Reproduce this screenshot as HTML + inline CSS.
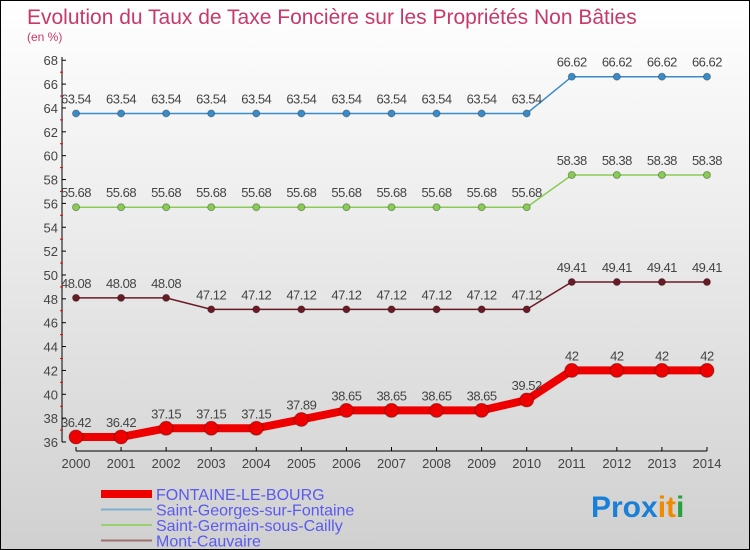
<!DOCTYPE html>
<html><head><meta charset="utf-8"><style>
body{margin:0;}
#c{width:748px;height:548px;border:1px solid #000;background:linear-gradient(#ffffff,#d0d0d0);position:relative;font-family:"Liberation Sans",sans-serif;overflow:hidden}
</style></head><body>
<div id="c">
<svg id="s" width="748" height="548" xmlns="http://www.w3.org/2000/svg">
<text x="26" y="23" font-size="21" fill="#c8386a">Evolution du Taux de Taxe Foncière sur les Propriétés Non Bâties</text>
<text x="26" y="40" font-size="12" fill="#c8386a">(en %)</text>
<g id="g"></g>
<text x="590" y="516" font-size="30" font-weight="bold"><tspan fill="#1a7fd6">Pro</tspan><tspan fill="#1a7fd6">x</tspan><tspan fill="#f08a00">i</tspan><tspan fill="#f08a00">t</tspan><tspan fill="#2aa040">i</tspan></text>
</svg></div>
<script>
const years=[2000,2001,2002,2003,2004,2005,2006,2007,2008,2009,2010,2011,2012,2013,2014];
const yTicks=[36,38,40,42,44,46,48,50,52,54,56,58,60,62,64,66,68];
const fontaine=[36.42,36.42,37.15,37.15,37.15,37.89,38.65,38.65,38.65,38.65,39.52,42,42,42,42];
const stGeorges=[63.54,63.54,63.54,63.54,63.54,63.54,63.54,63.54,63.54,63.54,63.54,66.62,66.62,66.62,66.62];
const stGermain=[55.68,55.68,55.68,55.68,55.68,55.68,55.68,55.68,55.68,55.68,55.68,58.38,58.38,58.38,58.38];
const montCauvaire=[48.08,48.08,48.08,47.12,47.12,47.12,47.12,47.12,47.12,47.12,47.12,49.41,49.41,49.41,49.41];
const names=["FONTAINE-LE-BOURG","Saint-Georges-sur-Fontaine","Saint-Germain-sous-Cailly","Mont-Cauvaire"];
const NS="http://www.w3.org/2000/svg";
const g=document.getElementById('g');
const X=i=>75+i*45.07;
const Y=v=>441-(v-36)*11.93;
function el(t,a,p){const e=document.createElementNS(NS,t);for(const k in a)e.setAttribute(k,a[k]);(p||g).appendChild(e);return e;}
let e=el('line',{x1:61,y1:56,x2:61,y2:441,stroke:'#000'});


e=el('line',{x1:75,y1:450,x2:706,y2:450,stroke:'#000'});


yTicks.forEach((v,i)=>{
 el('line',{x1:61,y1:Y(v),x2:65,y2:Y(v),stroke:'#000'});
 if(i<yTicks.length-1) el('line',{x1:59,y1:Y(v+1),x2:62,y2:Y(v+1),stroke:'#e00'});
 const t=el('text',{x:57,y:Y(v)+5,'font-size':13,fill:'#444','text-anchor':'end'});t.textContent=v;
 
 
});
years.forEach((yr,i)=>{
 el('line',{x1:X(i),y1:446,x2:X(i),y2:450,stroke:'#000'});
 const t=el('text',{x:X(i),y:467,'font-size':13,fill:'#444','text-anchor':'middle'});t.textContent=yr;
 
 
});
function series(data,color,w,r,name){
 const pl=el('polyline',{points:data.map((v,i)=>X(i)+','+Y(v)).join(' '),fill:'none',stroke:color,'stroke-width':w});
 
 
 data.forEach((v,i)=>{
  const c=el('circle',{cx:X(i),cy:Y(v),r:r,fill:color,stroke:'rgba(0,0,0,0.3)'});
  
  
  const t=el('text',{x:X(i),y:Y(v)-10,'font-size':13,fill:'#444','text-anchor':'middle','letter-spacing':'-0.5'});t.textContent=v;
  
  
 });
}
series(stGeorges,'#3a8cc8',1.5,3.5,'saint-georges');
series(stGermain,'#88cc55',1.5,3.5,'saint-germain');
series(montCauvaire,'#6a1a25',1.5,3.5,'mont-cauvaire');
series(fontaine,'#ee0000',8,7,'fontaine');
const lc=['#ee0000','#7fb0d0','#99d070','#a07070'],lw=[8,2,2,2];
names.forEach((n,i)=>{
 const y=493+i*15.5;
 const l=el('line',{x1:100,y1:y,x2:151,y2:y,stroke:lc[i],'stroke-width':lw[i]});
 
 
 const t=el('text',{x:155,y:y+6,'font-size':16,fill:'#5a5aee'});t.textContent=n;
 
 
});
</script>
</body></html>
